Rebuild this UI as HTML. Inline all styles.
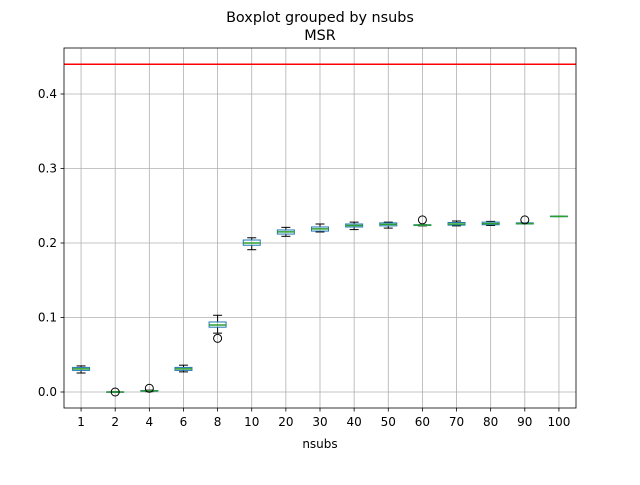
<!DOCTYPE html>
<html><head><meta charset="utf-8"><style>
body{margin:0;background:#fff;}
text{font-family:"DejaVu Sans","Liberation Sans",sans-serif;}
</style></head><body>
<svg id="chart" width="640" height="480" xmlns="http://www.w3.org/2000/svg">
<rect width="640" height="480" fill="#fff"/>
<text x="320" y="22" text-anchor="middle" font-size="14.4">Boxplot grouped by nsubs</text>
<text x="320" y="40" text-anchor="middle" font-size="14.4">MSR</text>
<text x="320" y="448" text-anchor="middle" font-size="12">nsubs</text>
<g id="grid"></g><g id="marks"></g><g id="axes"></g>
</svg>
<script>
const categories=["1","2","4","6","8","10","20","30","40","50","60","70","80","90","100"];
const whiskerLow=[0.0255,-0.0005,0.0005,0.027,0.079,0.191,0.209,0.2148,0.218,0.220,0.223,0.223,0.2235,0.2255,0.2355];
const q1=[0.029,-0.0002,0.001,0.029,0.087,0.197,0.212,0.216,0.2215,0.223,0.2235,0.224,0.2245,0.2255,0.2355];
const medians=[0.031,0.0,0.0015,0.031,0.090,0.200,0.215,0.219,0.2235,0.225,0.224,0.2255,0.226,0.226,0.2357];
const q3=[0.033,0.0002,0.002,0.033,0.094,0.204,0.2175,0.2215,0.2255,0.227,0.2245,0.2275,0.228,0.227,0.236];
const whiskerHigh=[0.035,0.0005,0.0025,0.036,0.103,0.207,0.221,0.2255,0.228,0.228,0.2245,0.2295,0.229,0.227,0.236];
const fliers=[[],[0.0],[0.005],[],[0.072],[],[],[],[],[],[0.231],[],[],[0.231],[]];
const yTicks=[0.0,0.1,0.2,0.3,0.4];
const refLine=0.440;
const L=64,R=576,T=48,B=408;
const y=v=>392-v*745;
const x=i=>L+(i+0.5)*(R-L)/categories.length;
const NS="http://www.w3.org/2000/svg";
function mk(parent,tag,attrs){const e=document.createElementNS(NS,tag);for(const k in attrs)e.setAttribute(k,attrs[k]);document.getElementById(parent).appendChild(e);return e;}
yTicks.forEach(t=>{
 const g=mk("grid","line",{x1:L,x2:R,y1:y(t),y2:y(t),stroke:"#b0b0b0","stroke-width":0.8});
 
 
 mk("axes","line",{x1:L-3.5,x2:L,y1:y(t),y2:y(t),stroke:"#000","stroke-width":0.8});
 const tx=mk("axes","text",{x:L-7,y:y(t)+4,"text-anchor":"end","font-size":12});
 tx.textContent=t.toFixed(1);
 
 
});
categories.forEach((c,i)=>{
 const cx=x(i);
 const g=mk("grid","line",{x1:cx,x2:cx,y1:T,y2:B,stroke:"#b0b0b0","stroke-width":0.8});
 
 
 mk("axes","line",{x1:cx,x2:cx,y1:B,y2:B+3.5,stroke:"#000","stroke-width":0.8});
 const tx=mk("axes","text",{x:cx,y:B+18,"text-anchor":"middle","font-size":12});
 tx.textContent=c;
 
 
 const hw=8.5,cw=4.5;
 [[whiskerLow[i],q1[i]],[q3[i],whiskerHigh[i]]].forEach(p=>{
  mk("marks","line",{x1:cx,x2:cx,y1:y(p[0]),y2:y(p[1]),stroke:"#000","stroke-width":1});
 });
 [whiskerLow[i],whiskerHigh[i]].forEach(v=>{
  const cap=mk("marks","line",{x1:cx-cw,x2:cx+cw,y1:y(v),y2:y(v),stroke:"#000","stroke-width":1});
  
  
 });
 const bx=mk("marks","rect",{x:cx-hw,y:y(q3[i]),width:2*hw,height:Math.max(0.5,y(q1[i])-y(q3[i])),fill:"none",stroke:"#1f77b4","stroke-width":1});
 
 
 const md=mk("marks","line",{x1:cx-hw,x2:cx+hw,y1:y(medians[i]),y2:y(medians[i]),stroke:"#2ca02c","stroke-width":1.5});
 
 
 fliers[i].forEach(v=>{
  const f=mk("marks","circle",{cx:cx,cy:y(v),r:4,fill:"none",stroke:"#000","stroke-width":1});
  
  
 });
});
const rl=mk("marks","line",{x1:L,x2:R,y1:y(refLine),y2:y(refLine),stroke:"#ff0000","stroke-width":1.5});


const fr=mk("axes","rect",{x:L,y:T,width:R-L,height:B-T,fill:"none",stroke:"#000","stroke-width":0.8});


</script>
</body></html>
